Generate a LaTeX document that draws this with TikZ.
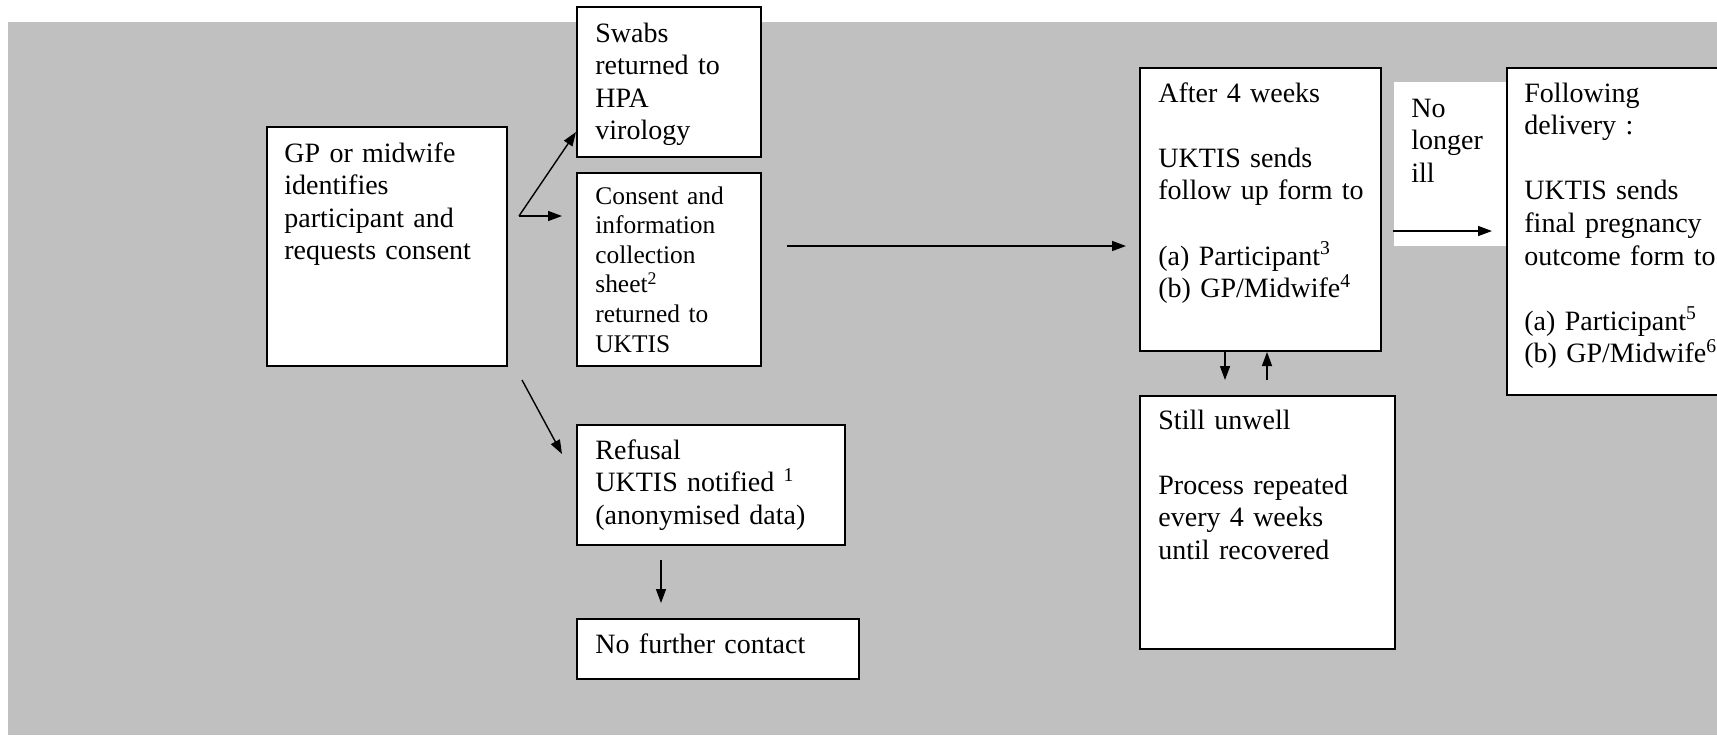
\documentclass[tikz,border=0pt]{standalone}
\usepackage{fontspec}
\setmainfont{Liberation Serif}
\usetikzlibrary{arrows.meta}
\definecolor{bggray}{RGB}{192,192,192}
\begin{document}
\begin{tikzpicture}[x=.5pt,y=-.5pt,
 box/.style={draw,fill=white,line width=1pt,inner sep=0pt,anchor=north west},
 txt/.style={inner sep=0pt,anchor=base west,align=left,text width=150pt,font=\fontsize{14}{16.3}\selectfont},
 small/.style={font=\fontsize{12.7}{14.8}\selectfont},
 arr/.style={-{Triangle[length=7pt,width=5pt]},line width=.7pt}]
\useasboundingbox (0,0) rectangle (1717,735);
\fill[bggray] (8,22) rectangle (1717,735);
\node[box,minimum width=120pt,minimum height=119.5pt] (gp) at (266,126) {};
\node[box,minimum width=92pt,minimum height=75pt] (swabs) at (576,6) {};
\node[box,minimum width=92pt,minimum height=96.5pt] (cons) at (576,172) {};
\node[box,minimum width=134pt,minimum height=60pt] (refusal) at (576,424) {};
\node[box,minimum width=141pt,minimum height=30pt] (nofurther) at (576,618) {};
\node[box,minimum width=120.5pt,minimum height=141.5pt] (after) at (1139,67) {};
\node[box,minimum width=127.5pt,minimum height=126.5pt] (still) at (1139,395) {};
\node[box,draw=none,minimum width=56.5pt,minimum height=82pt] (ill) at (1393,81) {};
\node[box,minimum width=110pt,minimum height=163.5pt] (follow) at (1506,67) {};
\node[txt] (gp-t) at ([shift={(18,36)}]gp.north west) {GP or midwife\\identifies\\participant and\\requests consent};
\node[txt] (swabs-t) at ([shift={(19,36)}]swabs.north west) {Swabs\\returned to\\HPA\\virology};
\node[txt,small] (cons-t) at ([shift={(19,32)}]cons.north west) {Consent and\\information\\collection\\sheet\textsuperscript{2}\\returned to\\UKTIS};
\node[txt] (refusal-t) at ([shift={(19,35)}]refusal.north west) {Refusal\\UKTIS notified \textsuperscript{1}\\(anonymised data)};
\node[txt] (nofurther-t) at ([shift={(19,35)}]nofurther.north west) {No further contact};
\node[txt] (after-t) at ([shift={(19,35)}]after.north west) {After 4 weeks\\[16.3pt]UKTIS sends\\follow up form to\\[16.3pt](a) Participant\textsuperscript{3}\\(b) GP/Midwife\textsuperscript{4}};
\node[txt] (still-t) at ([shift={(19,34)}]still.north west) {Still unwell\\[16.3pt]Process repeated\\every 4 weeks\\until recovered};
\node[txt] (ill-t) at ([shift={(18,36)}]ill.north west) {No\\longer\\ill};
\node[txt] (follow-t) at ([shift={(18,35)}]follow.north west) {Following\\delivery :\\[16.3pt]UKTIS sends\\final pregnancy\\outcome form to\\[16.3pt](a) Participant\textsuperscript{5}\\(b) GP/Midwife\textsuperscript{6}};
\coordinate (fork) at (519,216);\coordinate (c1) at (787,246);\coordinate (c2) at (1393,231);
\draw[arr] (fork)--([yshift=13pt]swabs.south west);\draw[arr,shorten >=7pt] (fork)--(fork -| cons.west);
\draw[arr,shorten >=6.5pt] (c1)--(c1 -| after.west);
\draw[arr] ([shift={(14,13)}]gp.south east)--([shift={(-14,30)}]refusal.north west);
\draw[arr] ([shift={(85,14)}]refusal.south west)--([shift={(85,-15)}]nofurther.north west);
\draw[arr] ([shift={(86,0)}]after.south west)--([shift={(86,-15)}]still.north west);
\draw[arr] ([shift={(128,-15)}]still.north west)--([shift={(128,0)}]after.south west);
\draw[arr,shorten >=7pt] (c2)--(c2 -| follow.west);
\end{tikzpicture}
\end{document}
